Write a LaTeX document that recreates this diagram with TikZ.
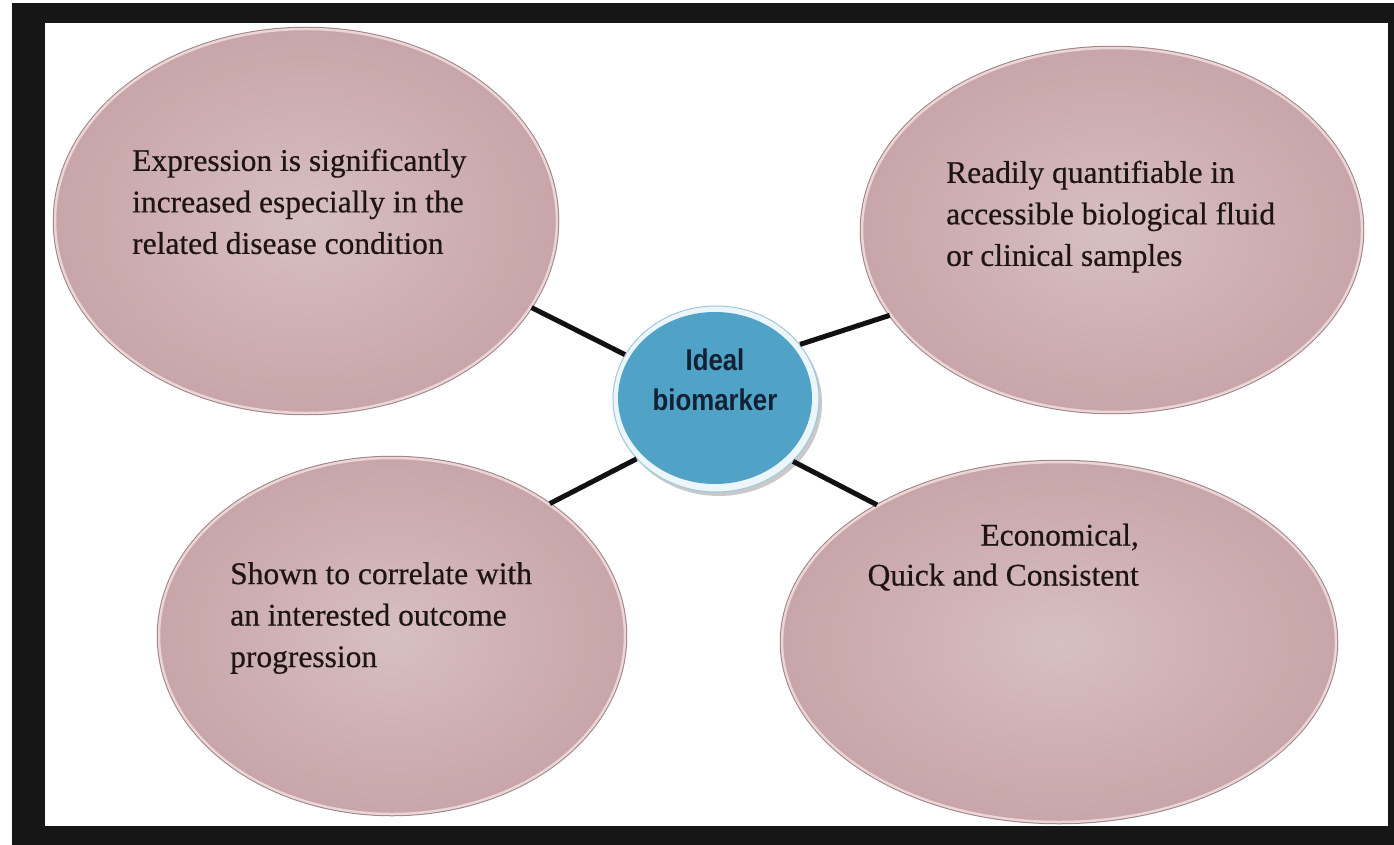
\documentclass[tikz,border=0pt]{standalone}
\usepackage{fontspec}
\setmainfont{Liberation Serif}[FakeBold=0.5]
\newfontfamily\csans{Liberation Sans}[FakeStretch=0.86]
\usetikzlibrary{shapes.geometric,shadows}
\definecolor{pinkin}{RGB}{215,191,192}
\definecolor{pinkout}{RGB}{200,165,168}
\definecolor{pinkedge}{RGB}{160,128,131}
\definecolor{pinkhl}{RGB}{234,214,215}
\definecolor{cblue}{RGB}{80,162,199}
\definecolor{crim}{RGB}{236,246,250}
\definecolor{crimedge}{RGB}{160,200,216}
\definecolor{navy}{RGB}{18,34,52}
\definecolor{txt}{RGB}{30,20,20}
\definecolor{framec}{RGB}{22,22,22}
\definecolor{linec}{RGB}{17,17,17}
\tikzset{
  bubble/.style={ellipse, inner sep=0pt, inner color=pinkin, outer color=pinkout,
    draw=pinkhl, line width=2.5pt, preaction={draw=pinkedge, line width=4.5pt}},
  btext/.style={inner sep=0pt, font=\fontsize{31.5}{41.5}\selectfont, text=txt},
  conn/.style={line width=5pt, draw=linec},
}
\begin{document}
\begin{tikzpicture}[x=1pt,y=-1pt]
\useasboundingbox (0,0) rectangle (1394,845);
\fill[white] (0,0) rectangle (1394,845);
\fill[framec] (12,3) rectangle (1394,845);
\fill[white] (45,23) rectangle (1388,826);

\node[bubble, minimum width=502pt, minimum height=384pt] (e1) at (306,221) {};
\node[bubble, minimum width=500pt, minimum height=364pt] (e2) at (1112,230) {};
\node[bubble, minimum width=466pt, minimum height=356pt] (e3) at (392,636) {};
\node[bubble, minimum width=554pt, minimum height=360pt] (e4) at (1059,642) {};

\node[btext, anchor=north west, align=left] (t1) at (132,148.5)
  {Expression is significantly\\increased especially in the\\related disease condition};
\node[btext, anchor=north west, align=left] (t2) at (946,160.5)
  {Readily quantifiable in\\accessible biological fluid\\or clinical samples};
\node[btext, anchor=north west, align=left] (t3) at (230,562)
  {Shown to correlate with\\an interested outcome\\progression};
\node[btext, anchor=north east, align=right, font=\fontsize{31.5}{40}\selectfont] (t4) at (1139,523.5)
  {Economical,\\Quick and Consistent};

\node[ellipse, inner sep=0pt, minimum width=206pt, minimum height=186pt, fill=crim,
  draw=crimedge, line width=1pt,
  drop shadow={shadow xshift=3pt, shadow yshift=-4pt, opacity=0.35, fill=black!60}] (c) at (716,399) {};
\node[ellipse, inner sep=0pt, minimum width=194pt, minimum height=172pt, fill=cblue] (cb) at (715,398) {};
\node[anchor=north, align=center, inner sep=0pt, text=navy,
  font=\csans\bfseries\fontsize{30}{40}\selectfont] (ct) at (715,349) {Ideal\\biomarker};

\draw[conn] (c.154) -- (e1.339);
\draw[conn] (c.33) -- (e2.201);
\draw[conn] (c.217) -- (e3.40);
\draw[conn] (c.321) -- (e4.143);
\end{tikzpicture}
\end{document}
